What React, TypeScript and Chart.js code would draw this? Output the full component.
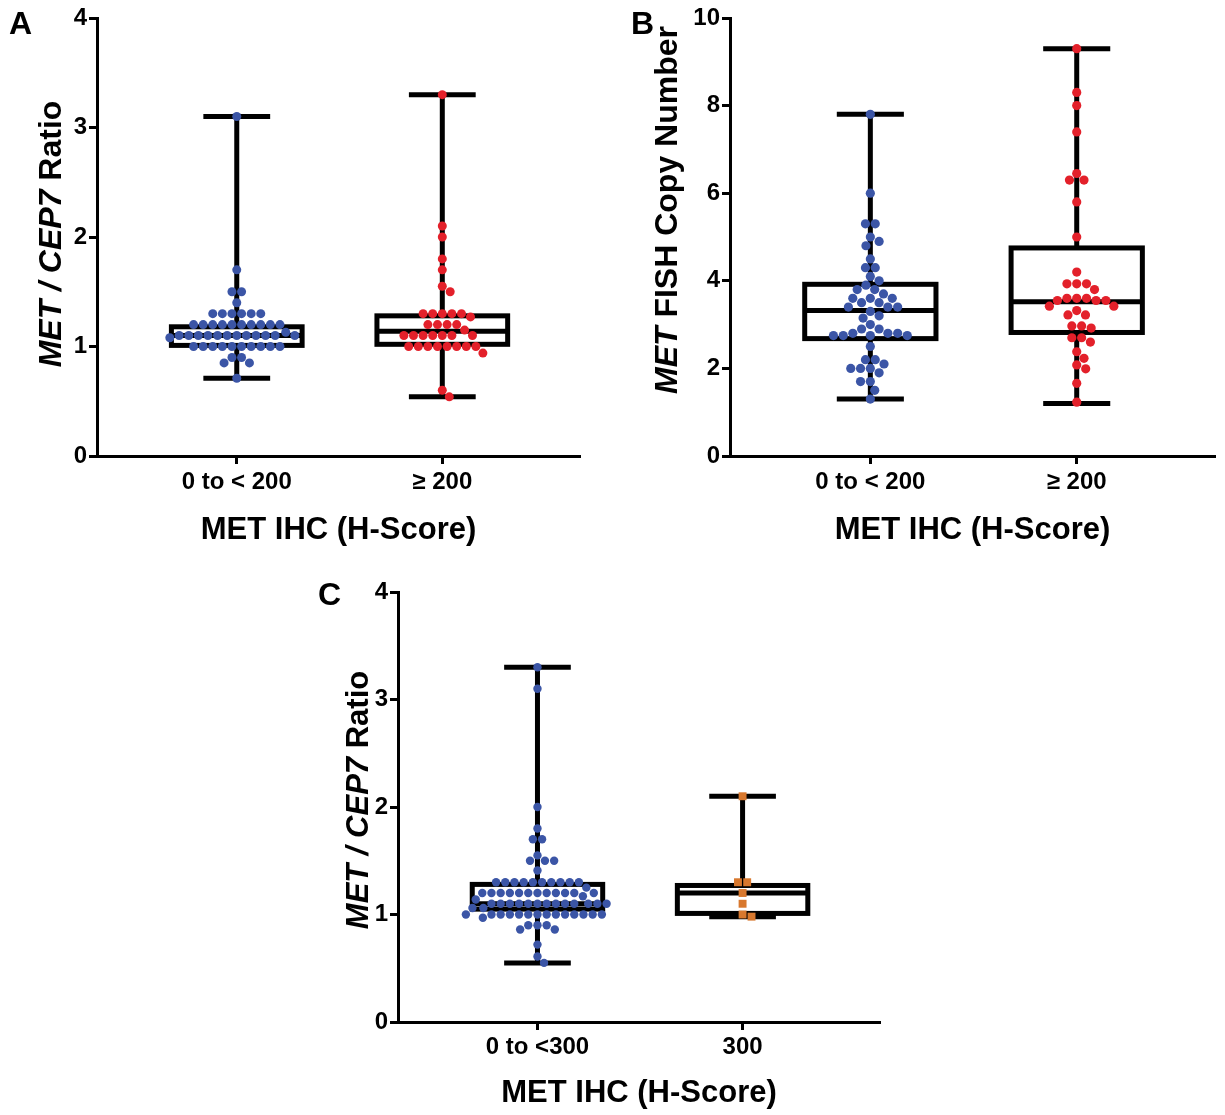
import React, { useEffect, useRef } from 'react';
import { Chart, registerables } from 'chart.js';

Chart.register(...registerables);

const FONT = '"Liberation Sans", Arial, Helvetica, sans-serif';

// ---------- Data ----------
// Panel A: MET / CEP7 ratio by MET IHC H-score (<200 vs >=200)
const catsA = ['0 to < 200', '≥ 200'];
const ratioLowA = [
  3.1, 1.7, 1.5, 1.5, 1.4,
  1.3, 1.3, 1.3, 1.3, 1.3, 1.3,
  1.2, 1.2, 1.2, 1.2, 1.2, 1.2, 1.2, 1.2, 1.2, 1.2,
  1.13,
  1.1, 1.1, 1.1, 1.1, 1.1, 1.1, 1.1, 1.1, 1.1, 1.1, 1.1, 1.1,
  1.08,
  1.0, 1.0, 1.0, 1.0, 1.0, 1.0, 1.0, 1.0, 1.0, 1.0,
  0.9, 0.9, 0.85, 0.85, 0.71,
];
const ratioHighA = [
  3.3, 2.1, 2.0, 1.8, 1.7, 1.55, 1.5,
  1.3, 1.3, 1.3, 1.3, 1.3, 1.27,
  1.2, 1.2, 1.2, 1.2, 1.15,
  1.1, 1.1, 1.1, 1.1, 1.1, 1.1, 1.1,
  1.0, 1.0, 1.0, 1.0, 1.0, 1.0, 1.0, 1.0,
  0.94, 0.6, 0.54,
];
// box stats: [min, q1, median, q3, max]
const boxLowA = [0.71, 1.01, 1.1, 1.18, 3.1];
const boxHighA = [0.54, 1.02, 1.14, 1.28, 3.3];
const yTicksA = [0, 1, 2, 3, 4];

// Panel B: MET FISH copy number
const catsB = ['0 to < 200', '≥ 200'];
const copyLowB = [
  7.8, 6.0, 5.3, 5.3, 5.0, 4.9, 4.8, 4.5, 4.3, 4.3, 4.1, 4.0, 3.9,
  3.8, 3.8, 3.7, 3.6, 3.6, 3.6, 3.5, 3.5, 3.4, 3.4, 3.4, 3.3, 3.2,
  3.15, 3.0, 2.9, 2.9, 2.8, 2.8, 2.8, 2.75, 2.75, 2.75, 2.75, 2.5,
  2.2, 2.2, 2.1, 2.0, 2.0, 2.0, 1.9, 1.7, 1.7, 1.5, 1.3,
];
const copyHighB = [
  9.3, 8.3, 8.0, 7.4, 6.45, 6.3, 6.3, 5.8, 5.0, 4.2,
  3.93, 3.93, 3.93, 3.8, 3.6, 3.6, 3.6, 3.55, 3.55, 3.55,
  3.42, 3.42, 3.32, 3.22, 3.22, 2.97, 2.97, 2.92, 2.7, 2.7,
  2.6, 2.38, 2.23, 2.08, 1.99, 1.66, 1.23,
];
const boxLowB = [1.3, 2.68, 3.32, 3.92, 7.8];
const boxHighB = [1.2, 2.82, 3.52, 4.75, 9.3];
const yTicksB = [0, 2, 4, 6, 8, 10];

// Panel C: MET / CEP7 ratio by MET IHC H-score (<300 vs 300)
const catsC = ['0 to <300', '300'];
const ratioLowC = [
  3.3, 3.1, 2.0, 1.8, 1.7, 1.7, 1.55, 1.5, 1.5, 1.5, 1.41,
  1.3, 1.3, 1.3, 1.3, 1.3, 1.3, 1.3, 1.3, 1.3, 1.3,
  1.25,
  1.2, 1.2, 1.2, 1.2, 1.2, 1.2, 1.2, 1.2, 1.2, 1.2, 1.2, 1.2,
  1.17, 1.14,
  1.1, 1.1, 1.1, 1.1, 1.1, 1.1, 1.1, 1.1, 1.1, 1.1, 1.1, 1.1, 1.1,
  1.06, 1.06,
  1.0, 1.0, 1.0, 1.0, 1.0, 1.0, 1.0, 1.0, 1.0, 1.0, 1.0, 1.0, 1.0, 1.0,
  0.97, 0.9, 0.9, 0.9, 0.86, 0.86, 0.72, 0.61, 0.55,
];
const ratio300C = [2.1, 1.3, 1.3, 1.2, 1.1, 1.0, 0.98];
const boxLowC = [0.55, 1.05, 1.1, 1.28, 3.3];
const box300C = [0.98, 1.01, 1.2, 1.27, 2.1];
const yTicksC = [0, 1, 2, 3, 4];

const BLUE = '#3b55a6';
const RED = '#e3202a';
const ORANGE = '#d8782e';

type Group = { values: number[]; color: string; radius: number; style: string; gap: number };
type Seg = { t: string; i: boolean };
type Spec = {
  left: number; top: number; width: number; height: number;
  pad: { left: number; top: number; right: number; bottom: number };
  yAxisW: number; xAxisH: number;
  cats: string[]; yTicks: number[];
  groups: Group[]; boxes: number[][];
  letter: string; letterX: number; letterY: number;
  yTitle: Seg[]; yTitleX: number; yTitleY: number; yTitleSize: number;
  xTickPad: number; xTitlePad: number;
};

const specs: Spec[] = [
  {
    left: 0, top: 0, width: 610, height: 560,
    pad: { left: 0, top: 18, right: 30, bottom: 0 },
    yAxisW: 97, xAxisH: 104,
    cats: catsA, yTicks: yTicksA,
    groups: [
      { values: ratioLowA, color: BLUE, radius: 4.5, style: 'circle', gap: 9.6 },
      { values: ratioHighA, color: RED, radius: 4.5, style: 'circle', gap: 9.6 },
    ],
    boxes: [boxLowA, boxHighA],
    letter: 'A', letterX: 9, letterY: 34,
    yTitle: [{ t: 'MET / CEP7', i: true }, { t: ' Ratio', i: false }],
    yTitleX: 52, yTitleY: 234, yTitleSize: 32,
    xTickPad: 4, xTitlePad: 11,
  },
  {
    left: 615, top: 0, width: 610, height: 560,
    pad: { left: 0, top: 18, right: 10, bottom: 0 },
    yAxisW: 115, xAxisH: 104,
    cats: catsB, yTicks: yTicksB,
    groups: [
      { values: copyLowB, color: BLUE, radius: 4.6, style: 'circle', gap: 9.8 },
      { values: copyHighB, color: RED, radius: 4.6, style: 'circle', gap: 9.8 },
    ],
    boxes: [boxLowB, boxHighB],
    letter: 'B', letterX: 16, letterY: 34,
    yTitle: [{ t: 'MET', i: true }, { t: ' FISH Copy Number', i: false }],
    yTitleX: 53, yTitleY: 210, yTitleSize: 32,
    xTickPad: 4, xTitlePad: 11,
  },
  {
    left: 290, top: 560, width: 610, height: 555,
    pad: { left: 0, top: 32, right: 20, bottom: 0 },
    yAxisW: 108, xAxisH: 93,
    cats: catsC, yTicks: yTicksC,
    groups: [
      { values: ratioLowC, color: BLUE, radius: 4.2, style: 'circle', gap: 9.2 },
      { values: ratio300C, color: ORANGE, radius: 5.6, style: 'rect', gap: 9.2 },
    ],
    boxes: [boxLowC, box300C],
    letter: 'C', letterX: 28, letterY: 45,
    yTitle: [{ t: 'MET / CEP7', i: true }, { t: ' Ratio', i: false }],
    yTitleX: 69, yTitleY: 240, yTitleSize: 31,
    xTickPad: 3, xTitlePad: 3,
  },
];

// ---------- Plugins ----------
// Arranges each dataset's points as a bee-swarm around its category centre (pixel space).
const swarmPlugin = {
  id: 'swarm',
  afterDatasetsUpdate(chart: any) {
    chart.data.datasets.forEach((ds: any, di: number) => {
      const meta = chart.getDatasetMeta(di);
      const pts = meta.data as any[];
      if (!pts.length) return;
      const D = ds.swarmGap as number;
      const vals: number[] = ds.data.map((d: any) => d.y);
      const order = vals.map((_, i) => i).sort((a, b) => vals[b] - vals[a]);
      const placed: { x: number; y: number }[] = [];
      const collides = (x: number, y: number) =>
        placed.some((q) => (q.x - x) * (q.x - x) + (q.y - y) * (q.y - y) < D * D - 0.01);
      let k = 0;
      while (k < order.length) {
        let j = k;
        while (j < order.length && vals[order[j]] === vals[order[k]]) j++;
        const grp = order.slice(k, j);
        const n = grp.length;
        const y = pts[grp[0]].y;
        const centered = grp.map((_, m) => (m - (n - 1) / 2) * D);
        if (centered.every((cx) => !collides(cx, y))) {
          grp.forEach((idx, m) => {
            placed.push({ x: centered[m], y });
            pts[idx].x = pts[idx].x + centered[m];
          });
        } else {
          grp.forEach((idx) => {
            const py = pts[idx].y;
            const cands = [0];
            placed.forEach((q) => {
              const dy = Math.abs(q.y - py);
              if (dy < D) {
                const dx = Math.sqrt(D * D - dy * dy);
                cands.push(q.x + dx, q.x - dx);
              }
            });
            cands.sort((a, b) => Math.abs(a) - Math.abs(b) || b - a);
            const off = cands.find((c) => !collides(c, py)) ?? 0;
            placed.push({ x: off, y: py });
            pts[idx].x = pts[idx].x + off;
          });
        }
        k = j;
      }
    });
  },
};

function boxPlugin(boxes: number[][]) {
  return {
    id: 'boxes',
    beforeDatasetsDraw(chart: any) {
      const { ctx, scales } = chart;
      const xs = scales.x;
      const ys = scales.y;
      const spacing = Math.abs(xs.getPixelForValue(1) - xs.getPixelForValue(0));
      const bw = spacing * 0.636;
      const cw = spacing * 0.325;
      ctx.save();
      ctx.strokeStyle = '#000';
      ctx.lineWidth = 5;
      ctx.lineCap = 'butt';
      boxes.forEach((s, i) => {
        const cx = xs.getPixelForValue(i);
        const [mn, q1, md, q3, mx] = s.map((v) => ys.getPixelForValue(v));
        ctx.beginPath();
        ctx.moveTo(cx, q3);
        ctx.lineTo(cx, mx);
        ctx.moveTo(cx, q1);
        ctx.lineTo(cx, mn);
        ctx.stroke();
        ctx.beginPath();
        ctx.moveTo(cx - cw / 2, mx);
        ctx.lineTo(cx + cw / 2, mx);
        ctx.moveTo(cx - cw / 2, mn);
        ctx.lineTo(cx + cw / 2, mn);
        ctx.stroke();
        ctx.fillStyle = '#fff';
        ctx.fillRect(cx - bw / 2, q3, bw, q1 - q3);
        ctx.strokeRect(cx - bw / 2, q3, bw, q1 - q3);
        ctx.beginPath();
        ctx.moveTo(cx - bw / 2, md);
        ctx.lineTo(cx + bw / 2, md);
        ctx.stroke();
      });
      ctx.restore();
    },
  };
}

function textPlugin(spec: Spec) {
  return {
    id: 'panelText',
    afterDraw(chart: any) {
      const ctx = chart.ctx as CanvasRenderingContext2D;
      ctx.save();
      ctx.fillStyle = '#000';
      ctx.font = `bold 32px ${FONT}`;
      ctx.textAlign = 'left';
      ctx.textBaseline = 'alphabetic';
      ctx.fillText(spec.letter, spec.letterX, spec.letterY);

      ctx.translate(spec.yTitleX, spec.yTitleY);
      ctx.rotate(-Math.PI / 2);
      ctx.textBaseline = 'middle';
      const fontFor = (s: Seg) => `${s.i ? 'italic ' : ''}bold ${spec.yTitleSize}px ${FONT}`;
      let total = 0;
      const widths = spec.yTitle.map((s) => {
        ctx.font = fontFor(s);
        const w = ctx.measureText(s.t).width;
        total += w;
        return w;
      });
      let x = -total / 2;
      spec.yTitle.forEach((s, i) => {
        ctx.font = fontFor(s);
        ctx.fillText(s.t, x, 0);
        x += widths[i];
      });
      ctx.restore();
    },
  };
}

function buildConfig(spec: Spec): any {
  const tickFont = { family: FONT, size: 24, weight: 'bold' as const };
  const grid = { drawOnChartArea: false, drawTicks: true, tickLength: 8, tickWidth: 3, tickColor: '#000' };
  const border = { display: true, color: '#000', width: 3 };
  return {
    type: 'scatter',
    data: {
      datasets: spec.groups.map((g, i) => ({
        data: g.values.map((v) => ({ x: i, y: v })),
        backgroundColor: g.color,
        borderWidth: 0,
        pointRadius: g.radius,
        pointHoverRadius: g.radius,
        pointStyle: g.style,
        swarmGap: g.gap,
      })),
    },
    options: {
      animation: false,
      responsive: false,
      devicePixelRatio: 1,
      layout: { padding: spec.pad },
      plugins: { legend: { display: false }, tooltip: { enabled: false } },
      events: [],
      scales: {
        x: {
          type: 'linear',
          min: -0.68,
          max: 1.67,
          afterBuildTicks: (s: any) => {
            s.ticks = spec.cats.map((_, i) => ({ value: i }));
          },
          ticks: {
            callback: (v: any) => spec.cats[v] ?? '',
            font: tickFont,
            color: '#000',
            padding: spec.xTickPad,
            maxRotation: 0,
            autoSkip: false,
          },
          grid,
          border,
          title: {
            display: true,
            text: 'MET IHC (H-Score)',
            font: { family: FONT, size: 31, weight: 'bold' },
            color: '#000',
            padding: { top: 0, bottom: spec.xTitlePad },
          },
          afterFit: (s: any) => {
            s.height = spec.xAxisH;
          },
        },
        y: {
          type: 'linear',
          min: spec.yTicks[0],
          max: spec.yTicks[spec.yTicks.length - 1],
          afterBuildTicks: (s: any) => {
            s.ticks = spec.yTicks.map((v) => ({ value: v }));
          },
          ticks: { font: tickFont, color: '#000', padding: 2 },
          grid,
          border,
          afterFit: (s: any) => {
            s.width = spec.yAxisW;
          },
        },
      },
    },
    plugins: [swarmPlugin, boxPlugin(spec.boxes), textPlugin(spec)],
  };
}

function Panel({ spec }: { spec: Spec }) {
  const ref = useRef<HTMLCanvasElement>(null);
  useEffect(() => {
    const chart = new Chart(ref.current as HTMLCanvasElement, buildConfig(spec));
    return () => chart.destroy();
  }, [spec]);
  return (
    <div style={{ position: 'absolute', left: spec.left, top: spec.top, width: spec.width, height: spec.height }}>
      <canvas ref={ref} width={spec.width} height={spec.height} style={{ display: 'block' }} />
    </div>
  );
}

export default function App() {
  return (
    <div
      style={{
        position: 'absolute',
        left: 0,
        top: 0,
        width: 1225,
        height: 1115,
        background: '#fff',
        overflow: 'hidden',
      }}
    >
      {specs.map((s, i) => (
        <Panel key={i} spec={s} />
      ))}
    </div>
  );
}
